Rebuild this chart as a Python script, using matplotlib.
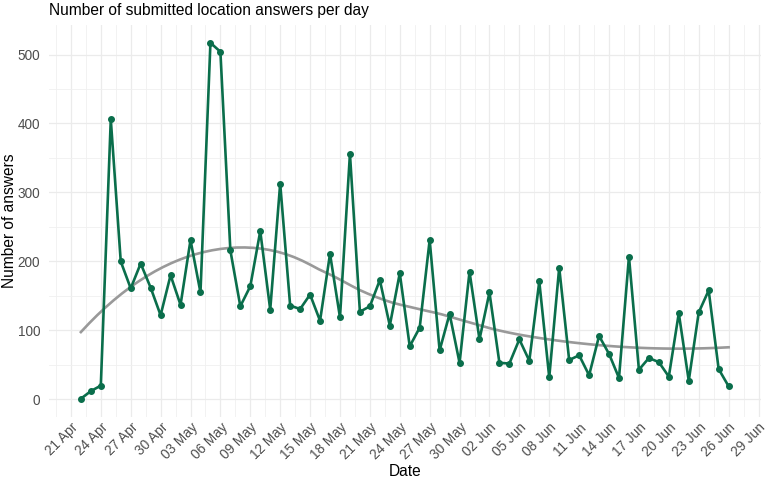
import matplotlib
matplotlib.use("Agg")
import matplotlib.pyplot as plt
import matplotlib.dates as mdates
import numpy as np
import pandas as pd

plt.rcParams['font.family'] = ['Liberation Sans', 'DejaVu Sans']

# daily number of submitted answers, 22 Apr .. 26 Jun
start_date = "2021-04-22"
answers = [1, 12, 20, 406, 200, 161, 197, 162, 122, 180, 137, 231, 155, 517, 504,
           216, 135, 164, 244, 130, 313, 136, 131, 152, 114, 211, 119, 356, 127, 135,
           173, 107, 183, 77, 104, 231, 71, 124, 53, 185, 87, 155, 53, 52, 87,
           56, 171, 32, 191, 57, 64, 35, 92, 66, 31, 207, 43, 60, 54, 33,
           125, 27, 126, 158, 44, 19]

dates = pd.date_range(start_date, periods=len(answers), freq="D")
x = mdates.date2num(dates)
y = np.array(answers, dtype=float)


# loess (degree 2, span 0.75) like geom_smooth's default
def loess(xs, ys, xnew, span=0.75):
    q = int(np.floor(len(xs) * span))
    out = []
    for x0 in xnew:
        d = np.abs(xs - x0)
        h = np.sort(d)[q - 1]
        w = np.clip(1 - (d / h) ** 3, 0, None) ** 3
        X = np.vstack([np.ones_like(xs), xs - x0, (xs - x0) ** 2]).T
        W = np.diag(w)
        beta = np.linalg.solve(X.T @ W @ X, X.T @ W @ ys)
        out.append(beta[0])
    return np.array(out)


xs = np.linspace(x.min(), x.max(), 80)
ys = loess(x, y, xs)

fig = plt.figure(figsize=(7.67, 4.79), dpi=100)
ax = fig.add_axes([48.5 / 767, 1 - 416.5 / 479, (761 - 48.5) / 767, (416.5 - 25) / 479])

ax.plot(xs, ys, color="#999999", lw=1.9, zorder=2)
ax.plot(x, y, color="#0A6E4B", lw=1.9, marker="o", ms=4, zorder=3)

major = pd.date_range(dates[0] - pd.Timedelta(days=1), dates[-1] + pd.Timedelta(days=3), freq="3D")
minor = major - pd.Timedelta(hours=36)
ax.set_xticks(mdates.date2num(major))
ax.set_xticks(mdates.date2num(minor), minor=True)
ax.xaxis.set_major_formatter(mdates.DateFormatter("%d %b"))
ax.set_yticks([0, 100, 200, 300, 400, 500])
ax.set_yticks([50, 150, 250, 350, 450], minor=True)
ax.margins(x=0.05, y=0.05)

ax.grid(which="major", color="#EBEBEB", lw=0.9, zorder=0)
ax.grid(which="minor", color="#F0F0F0", lw=0.6, zorder=0)
ax.set_axisbelow(True)
for s in ax.spines.values():
    s.set_visible(False)
ax.tick_params(which="both", length=0)
ax.tick_params(axis="y", labelsize=9.8, labelcolor="#4D4D4D", pad=6)
ax.tick_params(axis="x", labelsize=9.8, labelcolor="#4D4D4D", pad=3)
for lab in ax.get_xticklabels():
    lab.set_rotation(45)
    lab.set_ha("right")
    lab.set_rotation_mode("anchor")

ax.set_xlabel("Date", fontsize=11.2, labelpad=1)
fig.text(10 / 767, 1 - 220.75 / 479, "Number of answers", fontsize=11.2,
         rotation=90, ha="center", va="center")
fig.text(49 / 767, 1 - 10.5 / 479, "Number of submitted location answers per day",
         fontsize=11.2, ha="left", va="center")

fig.savefig("out.png", dpi=100)
